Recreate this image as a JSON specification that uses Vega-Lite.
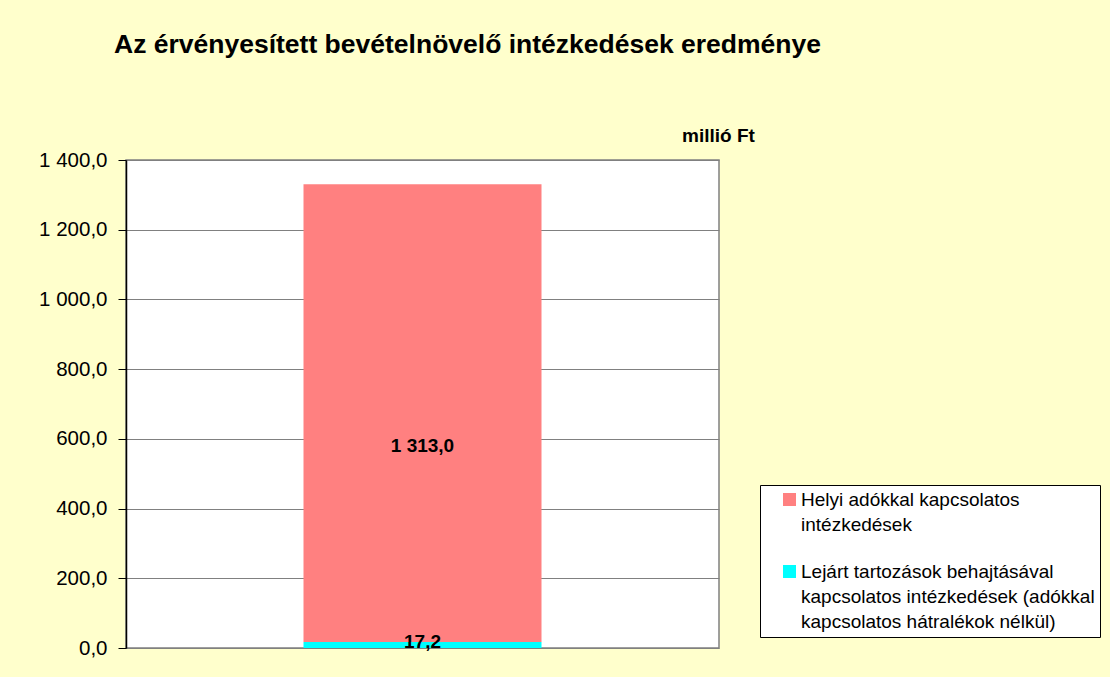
{
  "$schema": "https://vega.github.io/schema/vega-lite/v6.json",
  "width": 593,
  "height": 488,
  "autosize": {"type": "none"},
  "padding": {"left": 126, "top": 160, "right": 391, "bottom": 29},
  "background": "#FFFFCC",
  "title": {
    "text": "Az érvényesített bevételnövelő intézkedések eredménye",
    "anchor": "middle",
    "frame": "group",
    "dx": 45,
    "offset": 47,
    "baseline": "alphabetic",
    "font": "Liberation Sans",
    "fontSize": 26.5,
    "fontWeight": "bold",
    "color": "#000000"
  },
  "config": {
    "font": "Liberation Sans",
    "locale": {"number": {"decimal": ",", "thousands": " ", "grouping": [3], "currency": ["", " Ft"]}},
    "view": {"fill": "#FFFFFF", "stroke": "#808080", "strokeWidth": 1.5}
  },
  "data": {
    "values": [
      {"kategoria": "A", "sorozat": "Helyi adókkal kapcsolatos intézkedések", "ertek": 1313.0},
      {"kategoria": "A", "sorozat": "Lejárt tartozások behajtásával kapcsolatos intézkedések (adókkal kapcsolatos hátralékok nélkül)", "ertek": 17.2}
    ]
  },
  "encoding": {
    "x": {"field": "kategoria", "type": "nominal", "axis": null, "scale": {"paddingInner": 0, "paddingOuter": 0}}
  },
  "layer": [
    {
      "mark": {"type": "bar", "size": 238},
      "encoding": {
        "y": {
          "field": "ertek",
          "type": "quantitative",
          "stack": "zero",
          "scale": {"domain": [0, 1400], "nice": false},
          "axis": {
            "values": [0, 200, 400, 600, 800, 1000, 1200, 1400],
            "format": ",.1f",
            "grid": true,
            "gridColor": "#808080",
            "gridWidth": 1,
            "domainColor": "#000000",
            "domainWidth": 1.5,
            "tickColor": "#000000",
            "tickSize": 8,
            "labelPadding": 11,
            "labelFontSize": 20.5,
            "labelColor": "#000000",
            "labelFont": "Liberation Sans",
            "title": "millió Ft",
            "titleAngle": 0,
            "titleX": 592,
            "titleY": -25,
            "titleAlign": "center",
            "titleBaseline": "middle",
            "titleFontSize": 19,
            "titleFontWeight": "bold",
            "titleColor": "#000000"
          }
        },
        "color": {
          "field": "sorozat",
          "type": "nominal",
          "scale": {
            "domain": ["Helyi adókkal kapcsolatos intézkedések", "Lejárt tartozások behajtásával kapcsolatos intézkedések (adókkal kapcsolatos hátralékok nélkül)"],
            "range": ["#FF8080", "#00FFFF"]
          },
          "legend": {
            "title": null,
            "orient": "none",
            "legendX": 634,
            "legendY": 325,
            "fillColor": "#FFFFFF",
            "strokeColor": "#000000",
            "padding": 5,
            "symbolType": "square",
            "symbolSize": 169,
            "symbolStrokeWidth": 0,
            "symbolOffset": 15,
            "labelFontSize": 19,
            "labelColor": "#000000",
            "labelLimit": 500,
            "labelOffset": 2,
            "rowPadding": 27,
            "labelExpr": "indexof(datum.label, 'Helyi') == 0 ? ['Helyi adókkal kapcsolatos', 'intézkedések'] : ['Lejárt tartozások behajtásával', 'kapcsolatos intézkedések (adókkal', 'kapcsolatos hátralékok nélkül)']",
            "encode": {"labels": {"update": {"lineHeight": {"value": 25}}}}
          }
        },
        "order": {"field": "sorozat", "sort": "descending"}
      }
    },
    {
      "transform": [{"filter": "indexof(datum.sorozat, 'Lejárt') == 0"}],
      "mark": {"type": "text", "fontWeight": "bold", "fontSize": 19, "baseline": "middle", "color": "#000000"},
      "encoding": {
        "y": {"field": "ertek", "type": "quantitative", "stack": null},
        "text": {"field": "ertek", "type": "quantitative", "format": ",.1f"}
      }
    },
    {
      "transform": [{"filter": "indexof(datum.sorozat, 'Helyi') == 0"}],
      "mark": {"type": "text", "fontWeight": "bold", "fontSize": 19, "baseline": "middle", "color": "#000000", "dy": 256},
      "encoding": {
        "y": {"field": "ertek", "type": "quantitative", "stack": null},
        "text": {"field": "ertek", "type": "quantitative", "format": ",.1f"}
      }
    }
  ]
}
